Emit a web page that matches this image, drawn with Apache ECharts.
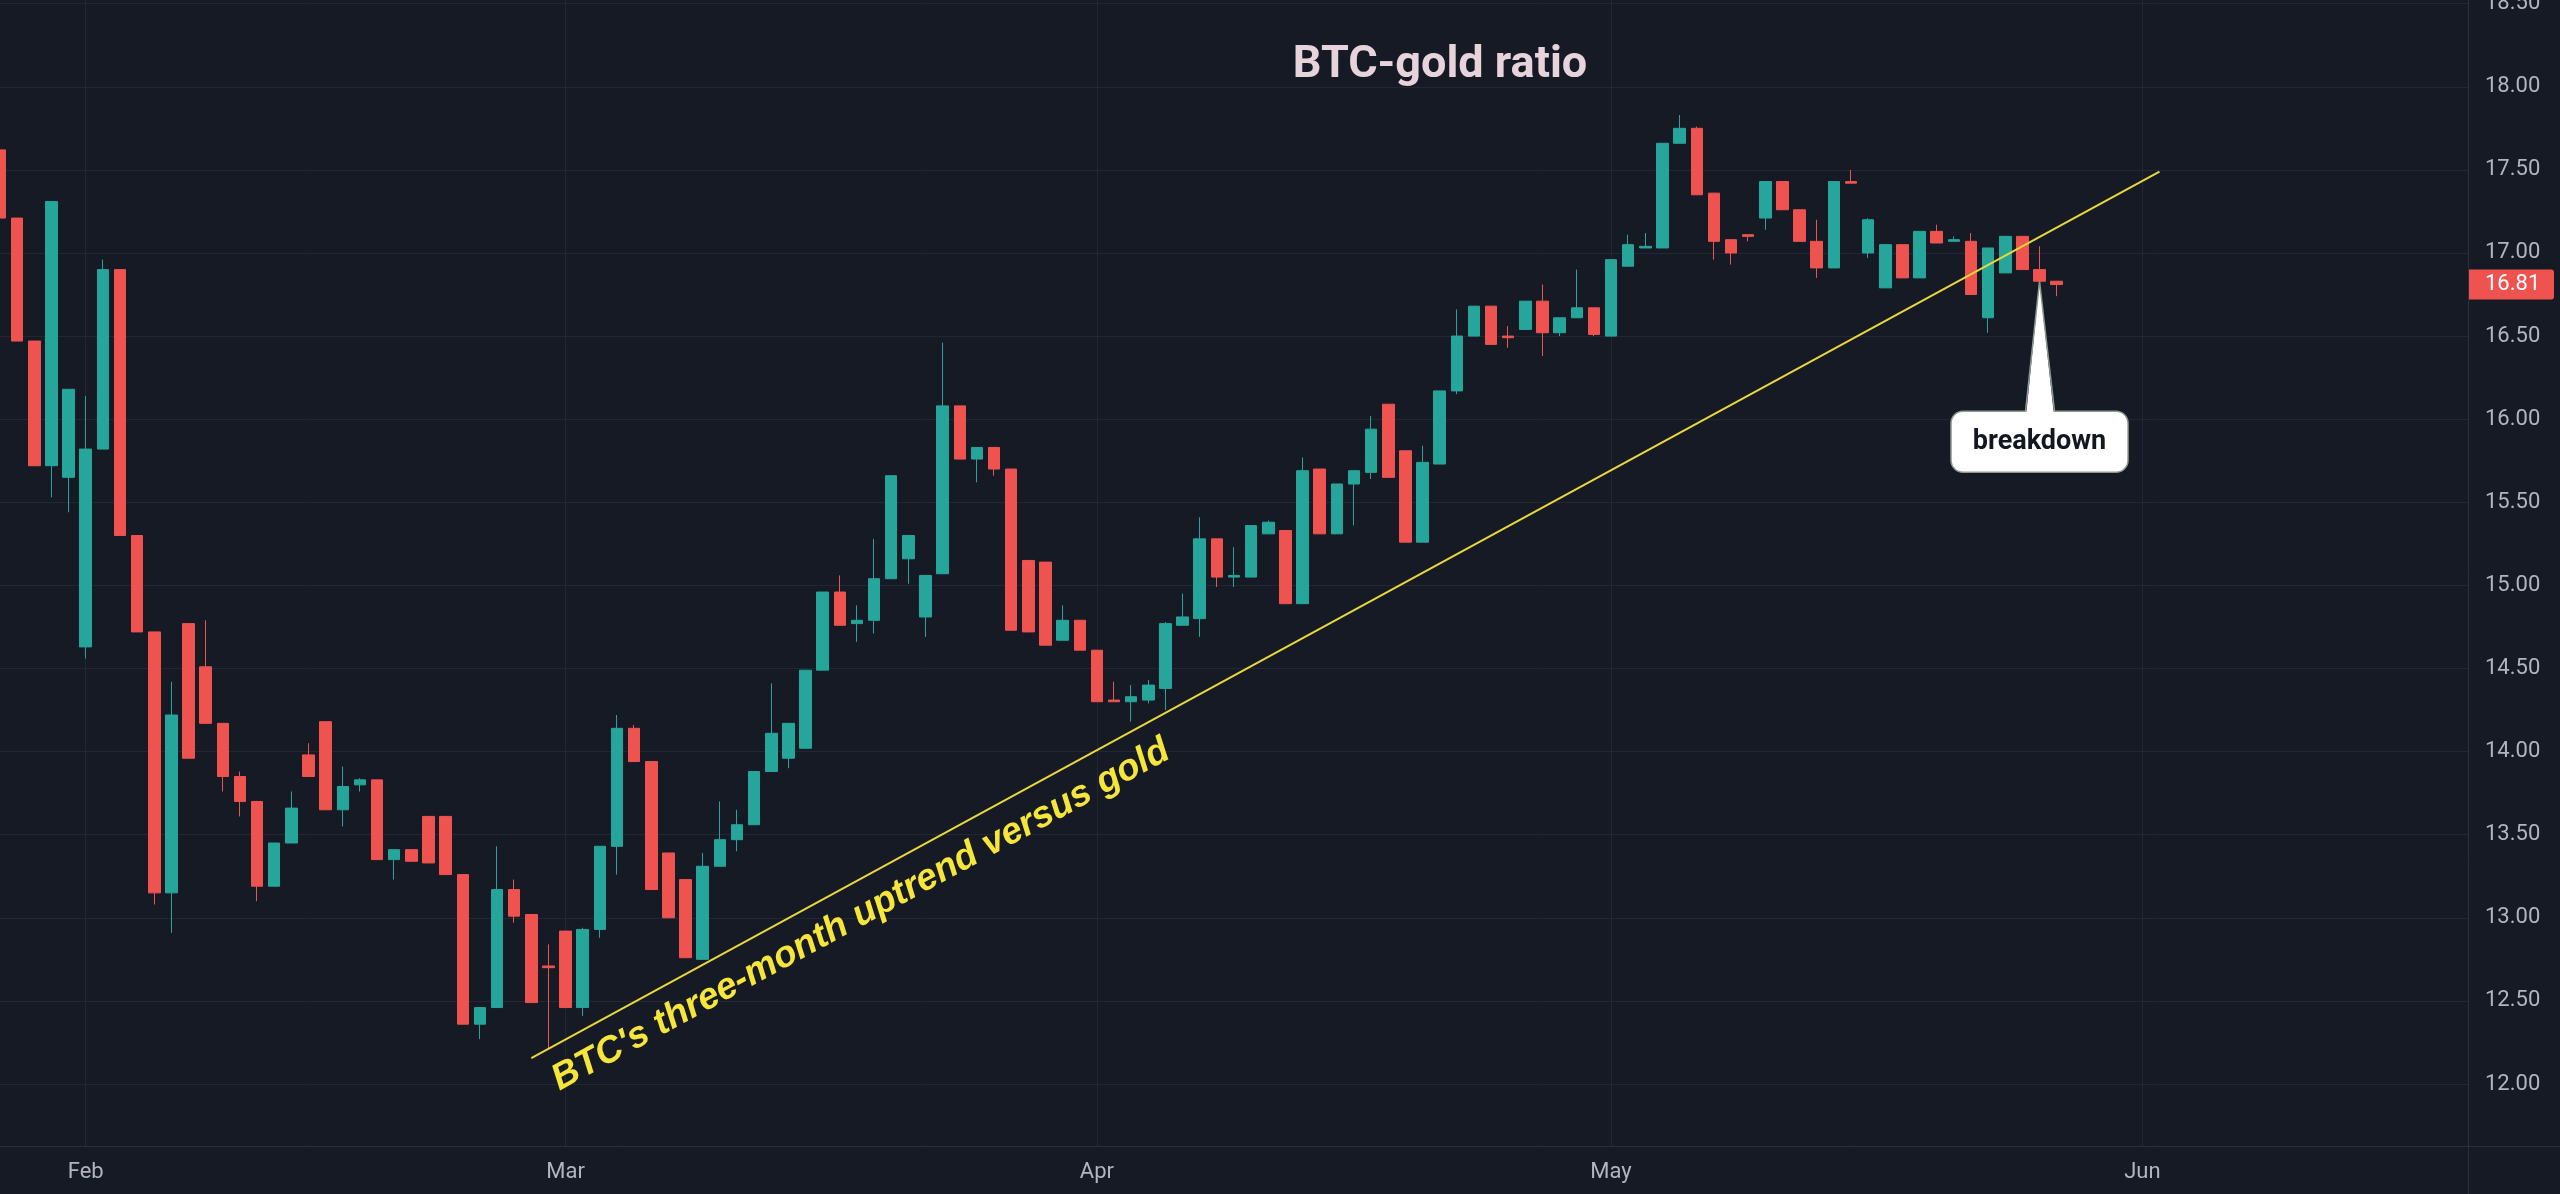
<!DOCTYPE html>
<html>
<head>
<meta charset="utf-8">
<script src="https://cdn.jsdelivr.net/npm/echarts@6/dist/echarts.min.js"></script>
<style>
html,body{margin:0;padding:0;background:#161a25;}
#chart{width:2560px;height:1194px;}
</style>
</head>
<body>
<div id="chart"></div>
<script>
// ---- data ----
const firstDate = '2025-01-27';
const axisLastDate = '2025-06-20';
const opens = [
 17.62,17.21,16.47,15.72,15.65,14.63,15.82,16.90,15.30,14.72,13.15,14.77,14.51,14.17,13.85,13.70,13.19,13.45,13.98,14.18,13.65,13.80,13.83,13.35,13.41,13.61,13.61,13.26,12.36,12.46,13.17,13.02,12.71,
 12.92,12.46,12.93,13.43,14.14,13.94,13.39,13.23,12.75,13.31,13.47,13.56,13.88,13.96,14.02,14.49,14.96,14.77,14.79,15.04,15.16,14.81,15.07,16.08,15.76,15.83,15.70,15.15,15.14,14.67,14.79,
 14.61,14.31,14.30,14.31,14.38,14.76,14.80,15.28,15.05,15.05,15.31,15.33,14.89,15.70,15.31,15.61,15.68,16.09,15.81,15.26,15.73,16.17,16.50,16.68,16.50,16.54,16.71,16.52,16.61,16.67,
 16.50,16.92,17.03,17.03,17.66,17.75,17.36,17.08,17.11,17.21,17.43,17.26,17.07,16.91,17.43,17.00,16.79,17.05,16.85,17.13,17.07,17.07,16.61,16.88,17.10,16.90,16.83
];
const closes = [
 17.21,16.47,15.72,17.31,16.18,15.82,16.90,15.30,14.72,13.15,14.22,13.96,14.17,13.85,13.70,13.19,13.45,13.66,13.85,13.65,13.79,13.83,13.35,13.41,13.34,13.33,13.26,12.36,12.46,13.17,13.01,12.49,12.70,
 12.46,12.93,13.43,14.14,13.94,13.17,13.00,12.76,13.31,13.47,13.56,13.88,14.11,14.17,14.49,14.96,14.76,14.79,15.04,15.66,15.30,15.06,16.08,15.76,15.83,15.70,14.73,14.72,14.64,14.79,14.61,
 14.30,14.30,14.33,14.40,14.77,14.81,15.28,15.05,15.06,15.36,15.38,14.89,15.69,15.31,15.61,15.69,15.94,15.65,15.26,15.74,16.17,16.50,16.68,16.45,16.49,16.71,16.52,16.61,16.67,16.51,
 16.96,17.05,17.04,17.66,17.75,17.35,17.07,17.00,17.10,17.43,17.26,17.07,16.91,17.43,17.42,17.20,17.05,16.85,17.13,17.06,17.08,16.75,17.03,17.10,16.90,16.83,16.81
];
const lows = [
 17.21,16.47,15.72,15.53,15.44,14.56,15.82,15.30,14.72,13.08,12.91,13.96,14.17,13.76,13.61,13.10,13.19,13.45,13.85,13.65,13.55,13.76,13.35,13.23,13.34,13.33,13.26,12.36,12.27,12.46,12.97,12.49,12.21,
 12.46,12.41,12.88,13.26,13.94,13.17,13.00,12.76,12.75,13.31,13.40,13.56,13.88,13.90,14.02,14.49,14.76,14.66,14.71,15.04,15.01,14.69,15.07,15.76,15.62,15.66,14.73,14.72,14.64,14.67,14.61,
 14.30,14.30,14.18,14.29,14.25,14.76,14.69,14.99,14.99,15.05,15.31,14.89,14.89,15.31,15.31,15.36,15.64,15.65,15.26,15.26,15.73,16.15,16.50,16.45,16.43,16.54,16.38,16.50,16.61,16.50,
 16.50,16.92,17.03,17.03,17.66,17.35,16.96,16.93,17.07,17.14,17.26,17.07,16.85,16.91,17.42,16.97,16.79,16.85,16.85,17.06,17.07,16.75,16.52,16.88,16.90,16.83,16.74
];
const highs = [
 17.64,17.21,16.47,17.31,16.18,16.14,16.96,16.90,15.30,14.72,14.42,14.77,14.79,14.17,13.88,13.70,13.45,13.76,14.05,14.18,13.91,13.84,13.83,13.41,13.41,13.61,13.61,13.26,12.46,13.43,13.23,13.02,12.84,
 12.92,12.94,13.43,14.22,14.16,13.94,13.39,13.23,13.39,13.70,13.65,13.88,14.41,14.17,14.49,14.96,15.06,14.88,15.28,15.66,15.30,15.06,16.46,16.08,15.83,15.83,15.70,15.15,15.14,14.88,14.79,
 14.61,14.42,14.40,14.43,14.78,14.95,15.41,15.28,15.23,15.36,15.39,15.33,15.77,15.70,15.61,15.69,16.02,16.09,15.81,15.84,16.17,16.66,16.68,16.68,16.56,16.71,16.81,16.61,16.90,16.67,
 16.96,17.11,17.12,17.66,17.83,17.76,17.36,17.08,17.11,17.43,17.43,17.26,17.20,17.43,17.50,17.21,17.05,17.05,17.13,17.17,17.10,17.12,17.03,17.10,17.10,17.04,16.83
];
const priceTicks = [12.00,12.50,13.00,13.50,14.00,14.50,15.00,15.50,16.00,16.50,17.00,17.50,18.00,18.50];
const monthNames = ['Jan','Feb','Mar','Apr','May','Jun','Jul','Aug','Sep','Oct','Nov','Dec'];
const trendStart = ['2025-02-27', 12.156];
const trendEnd = ['2025-06-02', 17.49];
const lastClose = 16.81;
const breakdownPoint = ['2025-05-26', 16.83];
const titleText = 'BTC-gold ratio';
const trendText = "BTC's three-month uptrend versus gold";
const calloutText = 'breakdown';

// ---- build ----
function buildDays(a, b) {
  const out = [];
  let t = Date.parse(a + 'T00:00:00Z');
  const e = Date.parse(b + 'T00:00:00Z');
  while (t <= e) { out.push(new Date(t).toISOString().slice(0, 10)); t += 86400000; }
  return out;
}
const days = buildDays(firstDate, axisLastDate);
const candleData = opens.map((o, i) => [o, closes[i], lows[i], highs[i]]);
const isMonthStart = (i, v) => String(v).slice(8) === '01';

const chart = echarts.init(document.getElementById('chart'), null, {renderer: 'canvas', width: 2560, height: 1194});
const BG = '#161a25';
const GRIDC = '#232733';
const AXISC = '#2c303b';
const LABELC = '#b2b5be';

chart.setOption({
  backgroundColor: BG,
  animation: false,
  grid: {left: 0, right: 92, top: 0, bottom: 48, containLabel: false, outerBoundsMode: 'none'},
  xAxis: {
    type: 'category', data: days, boundaryGap: false,
    axisLine: {show: true, lineStyle: {color: AXISC, width: 1}},
    axisTick: {show: false},
    axisLabel: {
      interval: isMonthStart,
      formatter: v => monthNames[parseInt(String(v).slice(5, 7), 10) - 1],
      color: LABELC, fontSize: 22, fontFamily: 'Roboto', margin: 15
    },
    splitLine: {show: true, interval: isMonthStart, lineStyle: {color: GRIDC, width: 1}}
  },
  yAxis: {
    type: 'value', position: 'right', min: 11.627, max: 18.522,
    axisLine: {show: true, lineStyle: {color: AXISC, width: 1}},
    axisTick: {show: false, customValues: priceTicks},
    axisLabel: {customValues: priceTicks, formatter: v => Number(v).toFixed(2), color: LABELC, fontSize: 22, fontFamily: 'Roboto', margin: 17},
    splitLine: {show: true, lineStyle: {color: GRIDC, width: 1}}
  },
  series: [{
    type: 'candlestick', data: candleData, barWidth: 12,
    itemStyle: {color: '#26a69a', color0: '#ef5350', borderColor: '#26a69a', borderColor0: '#ef5350', borderWidth: 1},
    markLine: {
      silent: true, symbol: ['none', 'none'], animation: false,
      label: {show: false},
      lineStyle: {color: '#e9d83a', width: 2, type: 'solid'},
      emphasis: {disabled: true},
      data: [[{coord: trendStart}, {coord: trendEnd}]]
    }
  }]
});

// ---- annotations positioned through the chart's own scales ----
const p0 = chart.convertToPixel({seriesIndex: 0}, trendStart);
const p1 = chart.convertToPixel({seriesIndex: 0}, trendEnd);
const ang = Math.atan2(p0[1] - p1[1], p1[0] - p0[0]);
const tt = 0.193;
const mx = p0[0] + (p1[0] - p0[0]) * tt, my = p0[1] + (p1[1] - p0[1]) * tt;
const off = 32;
const tx = mx + Math.sin(ang) * off, ty = my + Math.cos(ang) * off;

const lastY = chart.convertToPixel({seriesIndex: 0}, [days[opens.length - 1], lastClose])[1];
const tip = chart.convertToPixel({seriesIndex: 0}, breakdownPoint);
const bx = tip[0], by = tip[1];
const T = by + 130, H = 61, W = 177;
const L = bx - W / 2;

const axisX = 2468, axisY = 1146;
const CALLOUT_STROKE = '#8d9b8c';

chart.setOption({
  graphic: [
    {type: 'line', silent: true, shape: {x1: axisX, y1: axisY + 0.5, x2: 2560, y2: axisY + 0.5}, style: {stroke: AXISC, lineWidth: 1}},
    {type: 'line', silent: true, shape: {x1: axisX + 0.5, y1: axisY, x2: axisX + 0.5, y2: 1194}, style: {stroke: AXISC, lineWidth: 1}},
    {type: 'text', silent: true, x: 1440, y: 66,
      style: {text: titleText, fill: '#e6d4da', font: 'bold 45px Roboto', align: 'center', verticalAlign: 'middle'}},
    {type: 'text', silent: true, x: tx, y: ty, rotation: ang,
      style: {text: trendText, fill: '#f7e63a', font: 'italic bold 37px "Liberation Sans"', align: 'center', verticalAlign: 'middle'}},
    {type: 'rect', silent: true, shape: {x: L, y: T, width: W, height: H, r: 12},
      style: {fill: '#ffffff', stroke: CALLOUT_STROKE, lineWidth: 1.5}},
    {type: 'polygon', silent: true, shape: {points: [[bx, by], [bx + 14.2, T + 2], [bx - 13.2, T + 2]]},
      style: {fill: '#ffffff'}},
    {type: 'polyline', silent: true, shape: {points: [[bx - 14, T], [bx, by], [bx + 15, T]]},
      style: {stroke: CALLOUT_STROKE, lineWidth: 1.5, fill: null}},
    {type: 'text', silent: true, x: bx, y: T + 31,
      style: {text: calloutText, fill: '#131722', font: 'bold 27px Roboto', align: 'center', verticalAlign: 'middle'}},
    {type: 'rect', silent: true, shape: {x: axisX + 1, y: lastY - 15, width: 85, height: 30, r: [0, 3, 3, 0]},
      style: {fill: '#ef5350'}},
    {type: 'text', silent: true, x: 2485, y: lastY,
      style: {text: lastClose.toFixed(2), fill: '#ffffff', font: '22px Roboto', align: 'left', verticalAlign: 'middle'}}
  ]
});
</script>
</body>
</html>
